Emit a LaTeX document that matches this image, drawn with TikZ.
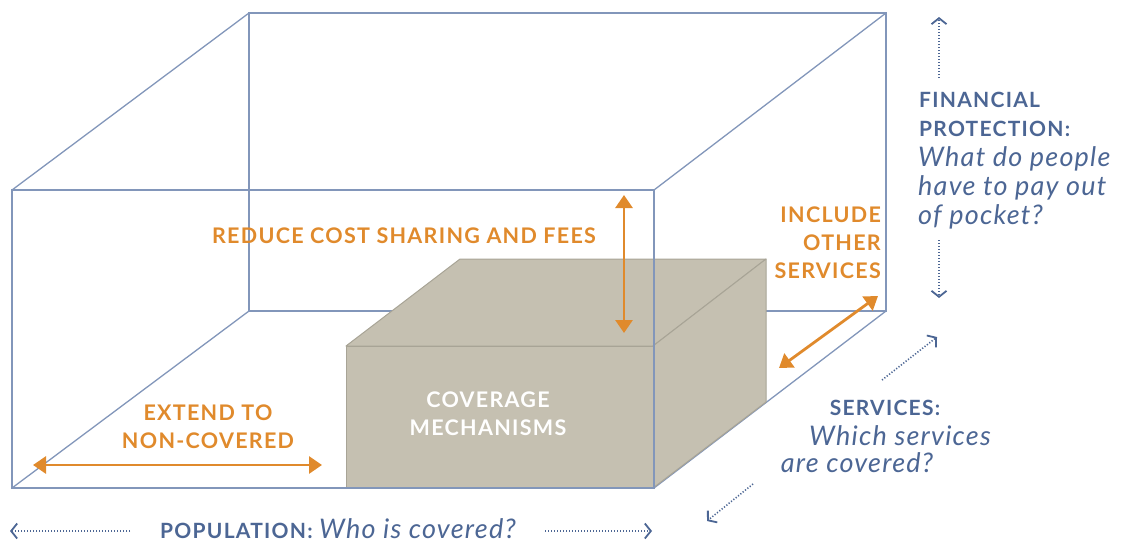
\documentclass[tikz,border=0pt]{standalone}
\usepackage{fontspec}
\setmainfont{Lato}
\newfontfamily\capsfont[LetterSpace=6]{Lato}
\newfontfamily\itfont[LetterSpace=4.5]{Lato}
\usetikzlibrary{arrows.meta}
\definecolor{wire}{RGB}{130,150,186}
\definecolor{blu}{RGB}{76,102,148}
\definecolor{orng}{RGB}{224,138,44}
\definecolor{boxfill}{RGB}{197,192,177}
\definecolor{boxedge}{RGB}{168,164,150}
\tikzset{
  wireline/.style={draw=wire, line width=1.3pt},
  oarrow/.style={draw=orng, line width=2.8pt, {Triangle[length=13pt,width=17pt]}-{Triangle[length=13pt,width=17pt]}},
  bdot/.style={draw=blu, line width=1.6pt, dash pattern=on 1.2pt off 1.8pt, -{Straight Barb[length=6pt,width=15pt,line width=1.8pt]}},
  olabel/.style={text=orng, font=\capsfont\bfseries\fontsize{21.5}{28}\selectfont, inner sep=0pt},
  blabel/.style={text=blu, font=\capsfont\bfseries\fontsize{21}{29}\selectfont, inner sep=0pt},
  qlabel/.style={text=blu, font=\itfont\itshape\fontsize{27}{29}\selectfont, inner sep=0pt},
  wlabel/.style={text=white, font=\capsfont\bfseries\fontsize{21.5}{28}\selectfont, inner sep=0pt, align=center},
  boxface/.style={fill=boxfill, draw=boxedge, line width=1pt, line join=round},
}
\begin{document}
\begin{tikzpicture}[x=1pt,y=-1pt]
\useasboundingbox (0,0) rectangle (1129,544);
% outer wireframe corners
\coordinate (FTL) at (12,190);
\coordinate (FTR) at (654,190);
\coordinate (FBL) at (12,488);
\coordinate (FBR) at (654,488);
\coordinate (BTL) at (249,13);
\coordinate (BTR) at (886,13);
\coordinate (BBL) at (249,311);
\coordinate (BBR) at (886,311);
% back lines
\draw[wireline] (BTL) -- (BTR) -- (BBR) -- (BBL) -- cycle;
\draw[wireline] (FTL) -- (BTL);
\draw[wireline] (FTR) -- (BTR);
\draw[wireline] (FBL) -- (BBL);
\draw[wireline] (FBR) -- (BBR);
% coverage box
\coordinate (cFTL) at (346,346);
\coordinate (cFTR) at (653,346);
\coordinate (cFBL) at (346,488);
\coordinate (cFBR) at (653,488);
\coordinate (cBTL) at (460,259);
\coordinate (cBTR) at (766,259);
\coordinate (cBBR) at (766,402);
\draw[boxface] (cFTL) -- (cBTL) -- (cBTR) -- (cFTR) -- cycle;
\draw[boxface] (cFTR) -- (cBTR) -- (cBBR) -- (cFBR) -- cycle;
\draw[boxface] (cFTL) rectangle (cFBR);
% front face of wireframe
\draw[wireline] (FTL) rectangle (FBR);
\node[wlabel] (cov) at (488,414) {COVERAGE\\MECHANISMS};
% orange arrows and labels
\coordinate (r1) at (624,195);
\coordinate (r2) at (624,333);
\draw[oarrow] (r1) -- (r2);
\node[olabel] (reduce) at (404,236) {REDUCE COST SHARING AND FEES};
\coordinate (s1) at (878,296);
\coordinate (s2) at (779,368);
\draw[oarrow] (s1) -- (s2);
\node[olabel, align=right, anchor=east] (incl) at (881,243) {INCLUDE\\OTHER\\SERVICES};
\coordinate (e1) at (33,465);
\coordinate (e2) at (322,465);
\draw[oarrow] (e1) -- (e2);
\node[olabel, align=center] (ext) at (208,427) {EXTEND TO\\NON-COVERED};
% financial protection
\coordinate (fa1) at (939,78);
\coordinate (fa2) at (939,17);
\coordinate (fb1) at (939,240);
\coordinate (fb2) at (939,298);
\draw[bdot] (fa1) -- (fa2);
\draw[bdot] (fb1) -- (fb2);
\node[blabel, align=left, anchor=west] (fin) at (919,114.5) {FINANCIAL\\PROTECTION:};
\node[qlabel, align=left, anchor=west] (finq) at (918,188) {What do people\\have to pay out\\of pocket?};
% services
\coordinate (sa1) at (882,380);
\coordinate (sa2) at (937,337);
\coordinate (sb1) at (753,484);
\coordinate (sb2) at (707,521);
\draw[bdot] (sa1) -- (sa2);
\draw[bdot] (sb1) -- (sb2);
\node[blabel] (serv) at (885,408) {SERVICES:};
\node[qlabel] (servq1) at (900,436) {Which services};
\node[qlabel] (servq2) at (857,463) {are covered?};
% population
\coordinate (pa1) at (130,531);
\coordinate (pa2) at (10,531);
\coordinate (pb1) at (545,531);
\coordinate (pb2) at (652,531);
\draw[bdot] (pa1) -- (pa2);
\draw[bdot] (pb1) -- (pb2);
\node[blabel] (pop) at (338,529) {POPULATION: {\itfont\itshape\mdseries\fontsize{27}{29}\selectfont Who is covered?}};
\end{tikzpicture}
\end{document}
